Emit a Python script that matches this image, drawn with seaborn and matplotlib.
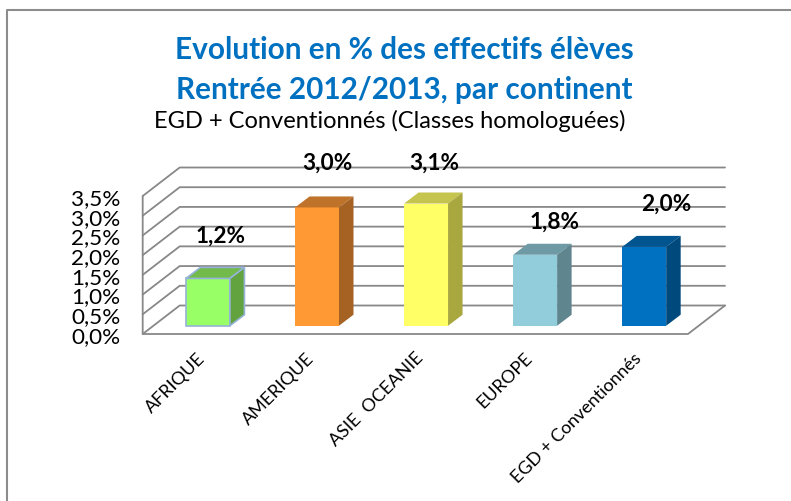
import numpy as np
import matplotlib
matplotlib.use("Agg")
import matplotlib.pyplot as plt
import seaborn as sns
from matplotlib.lines import Line2D
from matplotlib.patches import Polygon
from matplotlib.transforms import Affine2D, IdentityTransform

# Values
continents = ["AFRIQUE", "AMERIQUE", "ASIE  OCEANIE", "EUROPE", "EGD + Conventionnés"]
evolution = [1.2, 3.0, 3.1, 1.8, 2.0]
value_labels = ["1,2%", "3,0%", "3,1%", "1,8%", "2,0%"]
y_ticks = [0, 0.5, 1, 1.5, 2, 2.5, 3, 3.5]
y_tick_labels = ["0,0%", "0,5%", "1,0%", "1,5%", "2,0%", "2,5%", "3,0%", "3,5%"]

# Colours of each bar: front, top, side
front_colors = ["#99FF66", "#FF9933", "#FFFF66", "#92CDDC", "#0070C0"]
top_colors = ["#72BB4B", "#BF722A", "#C4C44E", "#6E9AA5", "#005490"]
side_colors = ["#62A33F", "#A56222", "#A8A83F", "#5F858F", "#00497D"]

# Label offsets from the top of each bar, pixels (placed by hand in the original)
label_dx = [13, 10, 8, 19, 22]
label_dy = [43, 45, 41, 34, 44]

W, H = 791, 502
GREY = "#888888"
FONT = "Lato"

sns.set_style("white")
plt.rcParams["font.family"] = [FONT, "DejaVu Sans"]

fig = plt.figure(figsize=(W / 100, H / 100), dpi=100)
# the axes is the front plane of the 3D box
left, right, bottom, top = 142.7, 688, 335, 197
ax = fig.add_axes([left / W, 1 - bottom / H, (right - left) / W, (bottom - top) / H])
ax.patch.set_visible(False)
sns.despine(ax=ax, left=True, bottom=True)

df_x = list(continents)
sns.barplot(x=df_x, y=evolution, hue=df_x, palette=front_colors, width=0.403,
            legend=False, saturation=1, ax=ax, zorder=3)
ax.set_xlim(-0.5, 4.5)
ax.set_ylim(0, 3.5)
ax.set_yticks(y_ticks)
ax.set_yticklabels(y_tick_labels, fontsize=16.2, color="black")
ax.tick_params(axis="y", length=0, pad=16)
ax.tick_params(axis="x", length=0, pad=15)
for lab in ax.get_xticklabels():
    lab.set(rotation=45, ha="right", va="center", rotation_mode="anchor",
            fontsize=13, color="black")
    lab.set_transform(lab.get_transform() + Affine2D().translate(5, 0))
ax.set_xlabel("")
ax.set_ylabel("")

fig.canvas.draw()
to_px = ax.transData.transform
px = IdentityTransform()

# box walls, in display pixels
DX, DY = 37, 28.5
for tick in y_ticks:
    x0, y0 = to_px((-0.5, tick))
    x1, _ = to_px((4.5, tick))
    fig.add_artist(Line2D([x0, x0 + DX, x1 + DX], [y0, y0 + DY, y0 + DY], transform=px,
                          color=GREY, lw=1.3, zorder=1))
x0, y0 = to_px((-0.5, 0))
x1, y3 = to_px((4.5, 3.5))
fig.add_artist(Line2D([x0, x0, x1, x1 + DX], [y3, y0, y0, y0 + DY], transform=px,
                      color=GREY, lw=1.3, zorder=1))
ax.set_zorder(2)

# bars stand a bit inside the box and get a top and a side face
BASE = 0.29
BAR_DX, BAR_DY = 14.5, 11
for i, bar in enumerate(ax.patches[:len(evolution)]):
    x_a, y_a = to_px((bar.get_x(), 0))
    x_b, y_b = to_px((bar.get_x() + bar.get_width(), evolution[i]))
    x_a += DX * BASE
    x_b += DX * BASE
    y_a += DY * BASE
    y_b += DY * BASE
    edge = "#95B3D7" if i == 0 else "none"
    bar.set_transform(px)
    bar.set_xy((x_a, y_a))
    bar.set_width(x_b - x_a)
    bar.set_height(y_b - y_a)
    bar.set_clip_on(False)
    bar.set_edgecolor(edge)
    bar.set_linewidth(1.2)
    ax.add_patch(Polygon([(x_a, y_b), (x_b, y_b), (x_b + BAR_DX, y_b + BAR_DY), (x_a + BAR_DX, y_b + BAR_DY)],
                         transform=px, clip_on=False, fc=top_colors[i], ec=edge, lw=1.2, zorder=3))
    ax.add_patch(Polygon([(x_b, y_a), (x_b + BAR_DX, y_a + BAR_DY), (x_b + BAR_DX, y_b + BAR_DY), (x_b, y_b)],
                         transform=px, clip_on=False, fc=side_colors[i], ec=edge, lw=1.2, zorder=3))
    ax.text((x_a + x_b) / 2 + label_dx[i], y_b + label_dy[i], value_labels[i], transform=px,
            ha="center", va="center", fontsize=16.3, fontweight="bold", color="black", zorder=5)

# titles
fig.text(404 / W, 1 - 50 / H, "Evolution en % des effectifs élèves", ha="center", va="center",
         fontsize=21.4, fontweight="bold", color="#0070C0")
fig.text(404 / W, 1 - 90 / H, "Rentrée 2012/2013, par continent", ha="center", va="center",
         fontsize=21.4, fontweight="bold", color="#0070C0")
fig.text(390 / W, 1 - 121 / H, "EGD + Conventionnés (Classes homologuées)", ha="center", va="center",
         fontsize=17, color="black")

# chart frame, cut by the image on the right and at the bottom
fig.add_artist(Line2D([6.5, 6.5, W], [0, H - 11, H - 11], transform=px, color="#8C8C8C", lw=1.5))

fig.savefig("out.png", dpi=100)
